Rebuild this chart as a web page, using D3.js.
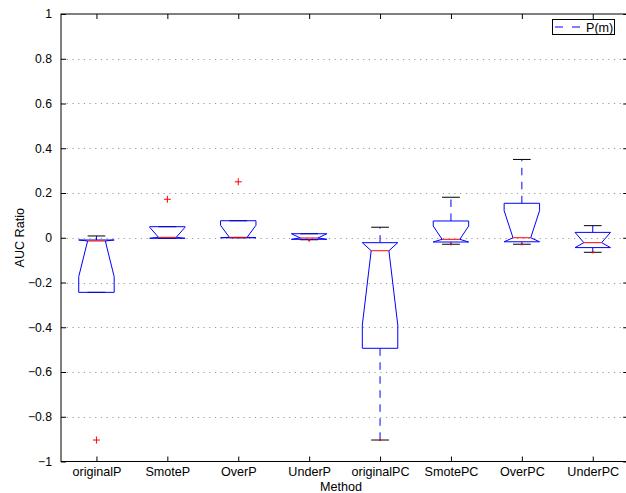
<!DOCTYPE html>
<html>
<head>
<meta charset="utf-8">
<script src="https://cdn.jsdelivr.net/npm/d3@7/dist/d3.min.js"></script>
<style>
  html, body { margin: 0; padding: 0; background: #fff; }
  svg { display: block; }
  text { font-family: "Liberation Sans", Arial, Helvetica, sans-serif; fill: #000; }
</style>
</head>
<body>
<svg id="chart" width="626" height="493"></svg>
<script>
// Methods on the x axis
const methods = ["originalP", "SmoteP", "OverP", "UnderP", "originalPC", "SmotePC", "OverPC", "UnderPC"];

// Box statistics per method (AUC ratio)
const q1Values       = [-0.244, -0.0025, 0.000, -0.007, -0.494, -0.019, -0.018, -0.044];
const medianValues   = [-0.0145, 0.002,  0.002, -0.001, -0.058, -0.007,  0.000, -0.022];
const q3Values       = [-0.010,  0.0494, 0.076,  0.018, -0.022,  0.075,  0.154,  0.024];
const notchLoValues  = [-0.174, -0.043, -0.052, -0.030, -0.390, -0.066, -0.121, -0.072];
const notchHiValues  = [ 0.145,  0.047,  0.0556, 0.028,  0.274,  0.0525, 0.121,  0.028];
const whiskerLoValues = [-0.244, -0.0025, 0.000, -0.009, -0.904, -0.029, -0.029, -0.065];
const whiskerHiValues = [ 0.008,  0.0494, 0.076,  0.018,  0.047,  0.181,  0.350,  0.054];

// Outliers: [method index, value]
const outliers = [[0, -0.904], [1, 0.172], [2, 0.250]];
// Points lying at the lower whisker ends
const whiskerEndPoints = [[3, -0.012], [4, -0.904], [5, -0.029], [6, -0.029], [7, -0.065]];

// Axis ticks
const yTicks = [-1, -0.8, -0.6, -0.4, -0.2, 0, 0.2, 0.4, 0.6, 0.8, 1];
const legendLabels = ["P(m)"];

const svg = d3.select("#chart");
const plotLeft = 61, plotRight = 628.2, plotTop = 14, plotBottom = 461.5;

const x = d3.scaleLinear().domain([0.5, methods.length + 0.5]).range([plotLeft, plotRight]);
const y = d3.scaleLinear().domain([-1, 1]).range([plotBottom, plotTop]);

const fmt = v => (v < 0 ? "\u2212" : "") + d3.format("")(Math.abs(v));

// Dotted horizontal grid
svg.append("g").selectAll("line").data(yTicks.filter(v => v > -1 && v < 1)).join("line")
  .attr("x1", plotLeft).attr("x2", plotRight)
  .attr("y1", d => Math.round(y(d)) + 0.5).attr("y2", d => Math.round(y(d)) + 0.5)
  .attr("stroke", "#9a9a9a").attr("stroke-width", 1)
  .attr("stroke-dasharray", "1.2,4.5");

// Axes (ticks point inward on all four sides)
const gAxes = svg.append("g");
const yAxisG = gAxes.append("g").attr("transform", `translate(${plotLeft},0)`)
  .call(d3.axisLeft(y).tickValues(yTicks).tickSize(-5).tickPadding(9).tickFormat(fmt))
  .call(g => g.select(".domain").remove());
gAxes.append("g").attr("transform", `translate(${plotRight},0)`)
  .call(d3.axisRight(y).tickValues(yTicks).tickSize(-5).tickFormat(""))
  .call(g => g.select(".domain").remove());
const xAxisG = gAxes.append("g").attr("transform", `translate(0,${plotBottom})`)
  .call(d3.axisBottom(x).tickValues(d3.range(1, methods.length + 1)).tickSize(-5).tickPadding(6)
    .tickFormat((d, i) => methods[i]))
  .call(g => g.select(".domain").remove());
gAxes.append("g").attr("transform", `translate(0,${plotTop})`)
  .call(d3.axisTop(x).tickValues(d3.range(1, methods.length + 1)).tickSize(-5).tickFormat(""))
  .call(g => g.select(".domain").remove());
gAxes.selectAll(".tick line").attr("stroke", "#000");
gAxes.selectAll("text")
  .attr("font-family", "'Liberation Sans', Arial, Helvetica, sans-serif").attr("fill", "#000");
yAxisG.selectAll("text").attr("font-size", 12.2);
xAxisG.selectAll("text").attr("font-size", 12.6);
gAxes.append("rect").attr("x", plotLeft).attr("y", plotTop)
  .attr("width", plotRight - plotLeft).attr("height", plotBottom - plotTop)
  .attr("fill", "none").attr("stroke", "#000").attr("stroke-width", 1);

// Boxes
const boxes = methods.map((m, i) => ({
  pos: i + 1,
  q1: q1Values[i], med: medianValues[i], q3: q3Values[i],
  nlo: Math.max(notchLoValues[i], q1Values[i]),
  nhi: Math.min(notchHiValues[i], q3Values[i]),
  wlo: whiskerLoValues[i], whi: whiskerHiValues[i]
}));
const half = 0.25, notchHalf = 0.125, capHalf = 0.125;
const gBox = svg.append("g");

// whiskers
boxes.forEach(b => {
  [[b.q3, b.whi], [b.q1, b.wlo]].forEach(([a, e]) => {
    if (Math.abs(y(a) - y(e)) < 0.5) return;
    gBox.append("line")
      .attr("x1", x(b.pos)).attr("x2", x(b.pos))
      .attr("y1", y(a)).attr("y2", y(e))
      .attr("stroke", "#0000ff").attr("stroke-width", 1)
      .attr("stroke-dasharray", "7.5,6.5");
  });
});
// whisker caps
boxes.forEach(b => {
  [b.whi, b.wlo].forEach(v => {
    gBox.append("line")
      .attr("x1", x(b.pos - capHalf)).attr("x2", x(b.pos + capHalf))
      .attr("y1", y(v)).attr("y2", y(v))
      .attr("stroke", "#000").attr("stroke-width", 1);
  });
});
// notched box outlines
const line = d3.line().x(d => x(d[0])).y(d => y(d[1]));
gBox.selectAll("path.box").data(boxes).join("path")
  .attr("class", "box")
  .attr("d", b => line([
    [b.pos - half, b.q1], [b.pos - half, b.nlo], [b.pos - notchHalf, b.med],
    [b.pos - half, b.nhi], [b.pos - half, b.q3], [b.pos + half, b.q3],
    [b.pos + half, b.nhi], [b.pos + notchHalf, b.med], [b.pos + half, b.nlo],
    [b.pos + half, b.q1], [b.pos - half, b.q1]
  ]))
  .attr("fill", "none").attr("stroke", "#0000ff").attr("stroke-width", 1)
  .attr("stroke-linejoin", "miter");
// medians
gBox.selectAll("line.med").data(boxes).join("line")
  .attr("class", "med")
  .attr("x1", b => x(b.pos - notchHalf)).attr("x2", b => x(b.pos + notchHalf))
  .attr("y1", b => y(b.med)).attr("y2", b => y(b.med))
  .attr("stroke", "#ff0000").attr("stroke-width", 1);

// outliers as red plus signs
const plus = 3.5;
const gOut = svg.append("g").attr("stroke", "#ff0000").attr("stroke-width", 1);
outliers.forEach(([i, v]) => {
  const cx = x(i + 1), cy = y(v);
  gOut.append("line").attr("x1", cx - plus).attr("x2", cx + plus).attr("y1", cy).attr("y2", cy);
  gOut.append("line").attr("x1", cx).attr("x2", cx).attr("y1", cy - plus).attr("y2", cy + plus);
});
svg.append("g").selectAll("rect").data(whiskerEndPoints).join("rect")
  .attr("x", d => x(d[0] + 1) - 1).attr("y", d => y(d[1]) - 1)
  .attr("width", 2).attr("height", 2).attr("fill", "#ff0000");

// Axis titles
svg.append("text").attr("x", 341).attr("y", 491).attr("text-anchor", "middle")
  .attr("font-size", 12.6).text("Method");
svg.append("text").attr("transform", `translate(24,${y(0)}) rotate(-90)`)
  .attr("text-anchor", "middle").attr("font-size", 12.6).text("AUC Ratio");

// Legend
const lg = svg.append("g");
lg.append("rect").attr("x", 552.5).attr("y", 19.5).attr("width", 62).attr("height", 15)
  .attr("fill", "#fff").attr("stroke", "#000").attr("stroke-width", 1);
lg.append("line").attr("x1", 555).attr("x2", 580).attr("y1", 27).attr("y2", 27)
  .attr("stroke", "#0000ff").attr("stroke-width", 1).attr("stroke-dasharray", "8,9");
lg.append("text").attr("x", 586).attr("y", 31.5).attr("font-size", 12.6).text(legendLabels[0]);
</script>
</body>
</html>
